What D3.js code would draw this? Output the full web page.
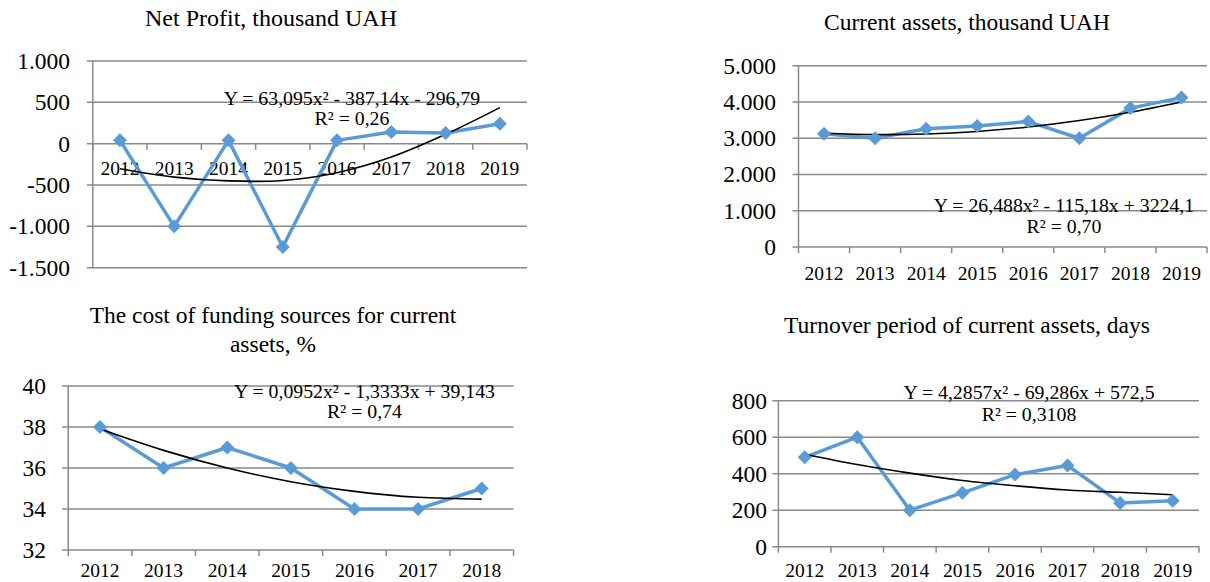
<!DOCTYPE html>
<html>
<head>
<meta charset="utf-8">
<script src="https://cdn.jsdelivr.net/npm/d3@7/dist/d3.min.js"></script>
<style>
  html, body { margin: 0; padding: 0; background: #fff; }
  svg { display: block; }
  text { font-family: "Liberation Serif", "Times New Roman", serif; fill: #000; }
</style>
</head>
<body>
<svg id="chart" width="1210" height="582"></svg>
<script>
// ---------- DATA ----------
const years8 = ["2012", "2013", "2014", "2015", "2016", "2017", "2018", "2019"];
const years7 = ["2012", "2013", "2014", "2015", "2016", "2017", "2018"];

const netProfit      = [40, -1000, 40, -1250, 40, 140, 130, 240];
const netProfitTrend = [-303, -404, -450, -445, -351, -162, 113, 436];
const netProfitTicks = [1000, 500, 0, -500, -1000, -1500];

const currentAssets      = [3120, 3000, 3260, 3340, 3460, 3000, 3830, 4120];
const currentAssetsTrend = [3135, 3100, 3117, 3187, 3310, 3487, 3716, 3998];
const currentAssetsTicks = [0, 1000, 2000, 3000, 4000, 5000];

const fundingCost      = [38, 36, 37, 36, 34, 34, 35];
const fundingCostTrend = [37.9, 36.86, 36.0, 35.33, 34.86, 34.57, 34.48];
const fundingCostTicks = [32, 34, 36, 38, 40];

const turnover      = [490, 600, 200, 295, 395, 445, 240, 252];
const turnoverTrend = [507, 450, 403, 363, 334, 311, 298, 285];
const turnoverTicks = [0, 200, 400, 600, 800];

const titles = [
  ["Net Profit, thousand UAH"],
  ["Current assets, thousand UAH"],
  ["The cost of funding sources for current", "assets, %"],
  ["Turnover period of current assets, days"]
];
const equations = [
  ["Y = 63,095x\u00B2 - 387,14x - 296,79", "R\u00B2 = 0,26"],
  ["Y = 26,488x\u00B2 - 115,18x + 3224,1", "R\u00B2 = 0,70"],
  ["Y = 0,0952x\u00B2 - 1,3333x + 39,143", "R\u00B2 = 0,74"],
  ["Y = 4,2857x\u00B2 - 69,286x + 572,5", "R\u00B2 = 0,3108"]
];

// ---------- LAYOUT ----------
const locale = d3.formatLocale({ decimal: ",", thousands: ".", grouping: [3], currency: ["", ""], minus: "-" });
const fmt = locale.format(",d");

const panels = [
  { cats: years8, values: netProfit, trend: netProfitTrend, ticks: netProfitTicks,
    domain: [-1500, 1000], x0: 92.8, x1: 527, yTop: 61, yBot: 267.7, axisValue: 0,
    labelRight: 70, catOffset: 31.5, title: titles[0], titleX: 271, titleY: [26], titleSize: 24,
    eq: equations[0], eqX: 352, eqY: [105, 125] },
  { cats: years8, values: currentAssets, trend: currentAssetsTrend, ticks: currentAssetsTicks,
    domain: [0, 5000], x0: 798.5, x1: 1207, yTop: 65.7, yBot: 247, axisValue: 0,
    labelRight: 776, catOffset: 33, title: titles[1], titleX: 967, titleY: [30], titleSize: 23.5,
    eq: equations[1], eqX: 1064, eqY: [212, 233] },
  { cats: years7, values: fundingCost, trend: fundingCostTrend, ticks: fundingCostTicks,
    domain: [32, 40], x0: 68.2, x1: 513.5, yTop: 386, yBot: 550, axisValue: 32,
    labelRight: 46, catOffset: 27, title: titles[2], titleX: 273, titleY: [323, 352], titleSize: 23.5,
    eq: equations[2], eqX: 364.5, eqY: [398, 418] },
  { cats: years8, values: turnover, trend: turnoverTrend, ticks: turnoverTicks,
    domain: [0, 800], x0: 778.4, x1: 1199, yTop: 400.7, yBot: 546.7, axisValue: 0,
    labelRight: 767, catOffset: 30, title: titles[3], titleX: 967, titleY: [333], titleSize: 23.5,
    eq: equations[3], eqX: 1029, eqY: [399, 421] }
];

const svg = d3.select("#chart");
const gridColor = "#8a8a8a";
const blue = "#5B9BD5";

panels.forEach(p => {
  const g = svg.append("g");
  const x = d3.scaleBand().domain(p.cats).range([p.x0, p.x1]).padding(0);
  const y = d3.scaleLinear().domain(p.domain).range([p.yBot, p.yTop]);
  const cx = d => x(d) + x.bandwidth() / 2;

  // gridlines with outward tick marks
  g.selectAll(".grid").data(p.ticks).join("line")
    .attr("x1", p.x0 - 6).attr("x2", p.x1)
    .attr("y1", d => y(d)).attr("y2", d => y(d))
    .attr("stroke", gridColor).attr("stroke-width", 1.5);

  // vertical axis
  g.append("line")
    .attr("x1", p.x0).attr("x2", p.x0)
    .attr("y1", p.yTop).attr("y2", p.yBot)
    .attr("stroke", gridColor).attr("stroke-width", 1.5);

  // category axis ticks (band boundaries)
  const axisY = y(p.axisValue);
  const bounds = p.cats.map(c => x(c)).concat([p.x1]);
  g.selectAll(".xt").data(bounds).join("line")
    .attr("x1", d => d).attr("x2", d => d)
    .attr("y1", axisY).attr("y2", axisY + 6)
    .attr("stroke", gridColor).attr("stroke-width", 1.5);

  // y tick labels
  g.selectAll(".yl").data(p.ticks).join("text")
    .attr("x", p.labelRight).attr("y", d => y(d))
    .attr("text-anchor", "end").attr("dominant-baseline", "central")
    .style("font-size", "23.5px")
    .text(d => fmt(d));

  // category labels
  g.selectAll(".xl").data(p.cats).join("text")
    .attr("x", d => cx(d)).attr("y", axisY + p.catOffset)
    .attr("text-anchor", "middle")
    .style("font-size", "19.5px")
    .text(d => d);

  // data line
  const line = d3.line().x((d, i) => cx(p.cats[i])).y(d => y(d));
  g.append("path").datum(p.values)
    .attr("d", line).attr("fill", "none")
    .attr("stroke", blue).attr("stroke-width", 3.5).attr("stroke-linejoin", "round");

  // trend line
  const tline = d3.line().x((d, i) => cx(p.cats[i])).y(d => y(d)).curve(d3.curveCatmullRom);
  g.append("path").datum(p.trend)
    .attr("d", tline).attr("fill", "none")
    .attr("stroke", "#000").attr("stroke-width", 1.6);

  // diamond markers
  const r = 7;
  g.selectAll(".mk").data(p.values).join("path")
    .attr("transform", (d, i) => `translate(${cx(p.cats[i])},${y(d)})`)
    .attr("d", `M0,${-r}L${r},0L0,${r}L${-r},0Z`)
    .attr("fill", blue);

  // title
  p.title.forEach((t, i) => {
    g.append("text")
      .attr("x", p.titleX).attr("y", p.titleY[i])
      .attr("text-anchor", "middle")
      .style("font-size", p.titleSize + "px")
      .text(t);
  });

  // equation annotation
  p.eq.forEach((t, i) => {
    g.append("text")
      .attr("x", p.eqX).attr("y", p.eqY[i])
      .attr("text-anchor", "middle")
      .style("font-size", "19.8px")
      .text(t);
  });
});
</script>
</body>
</html>
